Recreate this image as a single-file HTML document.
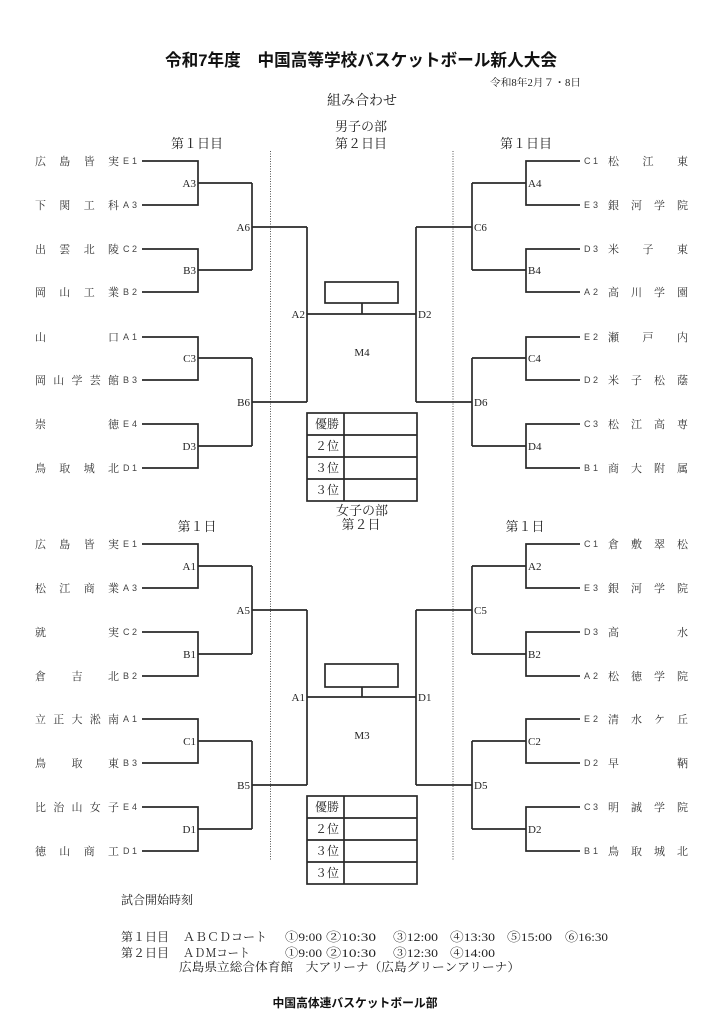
<!DOCTYPE html>
<html><head><meta charset="utf-8"><style>
html,body{margin:0;padding:0;background:#fff;}
svg{display:block;}
.s{font-family:"Liberation Serif","Noto Serif CJK SC",serif;fill:#222;}
.g{font-family:"Liberation Sans","Noto Sans CJK JP",sans-serif;fill:#111;}
.tm{font-family:"Liberation Serif","Noto Serif CJK SC",serif;font-size:11px;fill:#333;}
.cd{font-family:"Liberation Sans",sans-serif;font-size:9px;fill:#444;}
.lb{font-family:"Liberation Serif",serif;font-size:11px;fill:#222;}
.ln{fill:none;stroke:#2a2a2a;stroke-width:1.7;}
.dt{stroke:#555;stroke-width:1;stroke-dasharray:1 1.5;}
</style></head><body>
<svg width="724" height="1024" viewBox="0 0 724 1024" xmlns="http://www.w3.org/2000/svg">
<!-- headers -->
<text class="g" x="361" y="66" font-size="17" font-weight="bold" text-anchor="middle" textLength="392" lengthAdjust="spacingAndGlyphs">令和7年度　中国高等学校バスケットボール新人大会</text>
<text class="s" x="490" y="86" font-size="10" textLength="91" lengthAdjust="spacingAndGlyphs">令和8年2月７・8日</text>
<text class="s" x="362" y="105" font-size="14" text-anchor="middle">組み合わせ</text>
<text class="s" x="361" y="131" font-size="13" text-anchor="middle">男子の部</text>
<text class="s" x="361" y="148" font-size="13" text-anchor="middle">第２日目</text>
<text class="s" x="197" y="148" font-size="13" text-anchor="middle">第１日目</text>
<text class="s" x="526" y="148" font-size="13" text-anchor="middle">第１日目</text>
<text class="s" x="362" y="515" font-size="13" text-anchor="middle">女子の部</text>
<text class="s" x="361" y="529" font-size="13" text-anchor="middle">第２日</text>
<text class="s" x="197" y="531" font-size="13" text-anchor="middle">第１日</text>
<text class="s" x="525" y="531" font-size="13" text-anchor="middle">第１日</text>

<!-- dotted separators -->
<line class="dt" x1="270.5" y1="151" x2="270.5" y2="860"/>
<line class="dt" x1="453" y1="151" x2="453" y2="860"/>

<!-- TOP LEFT teams -->
<text class="tm" x="35 59.3 83.7 108" y="165">広島皆実</text>
<text class="tm" x="35 59.3 83.7 108" y="209">下関工科</text>
<text class="tm" x="35 59.3 83.7 108" y="253">出雲北陵</text>
<text class="tm" x="35 59.3 83.7 108" y="296">岡山工業</text>
<text class="tm" x="35 108" y="341">山口</text>
<text class="tm" x="35 53.25 71.5 89.75 108" y="384">岡山学芸館</text>
<text class="tm" x="35 108" y="428">崇徳</text>
<text class="tm" x="35 59.3 83.7 108" y="472">鳥取城北</text>
<text class="cd" x="123 132" y="164">E1</text>
<text class="cd" x="123 132" y="208">A3</text>
<text class="cd" x="123 132" y="252">C2</text>
<text class="cd" x="123 132" y="295">B2</text>
<text class="cd" x="123 132" y="340">A1</text>
<text class="cd" x="123 132" y="383">B3</text>
<text class="cd" x="123 132" y="427">E4</text>
<text class="cd" x="123 132" y="471">D1</text>

<!-- TOP RIGHT teams -->
<text class="tm" x="608 642.5 677" y="165">松江東</text>
<text class="tm" x="608 631 654 677" y="209">銀河学院</text>
<text class="tm" x="608 642.5 677" y="253">米子東</text>
<text class="tm" x="608 631 654 677" y="296">高川学園</text>
<text class="tm" x="608 642.5 677" y="341">瀬戸内</text>
<text class="tm" x="608 631 654 677" y="384">米子松蔭</text>
<text class="tm" x="608 631 654 677" y="428">松江高専</text>
<text class="tm" x="608 631 654 677" y="472">商大附属</text>
<text class="cd" x="584 593" y="164">C1</text>
<text class="cd" x="584 593" y="208">E3</text>
<text class="cd" x="584 593" y="252">D3</text>
<text class="cd" x="584 593" y="295">A2</text>
<text class="cd" x="584 593" y="340">E2</text>
<text class="cd" x="584 593" y="383">D2</text>
<text class="cd" x="584 593" y="427">C3</text>
<text class="cd" x="584 593" y="471">B1</text>

<!-- BOTTOM LEFT teams -->
<text class="tm" x="35 59.3 83.7 108" y="548">広島皆実</text>
<text class="tm" x="35 59.3 83.7 108" y="592">松江商業</text>
<text class="tm" x="35 108" y="636">就実</text>
<text class="tm" x="35 71.5 108" y="680">倉吉北</text>
<text class="tm" x="35 53.25 71.5 89.75 108" y="723">立正大淞南</text>
<text class="tm" x="35 71.5 108" y="767">鳥取東</text>
<text class="tm" x="35 53.25 71.5 89.75 108" y="811">比治山女子</text>
<text class="tm" x="35 59.3 83.7 108" y="855">徳山商工</text>
<text class="cd" x="123 132" y="547">E1</text>
<text class="cd" x="123 132" y="591">A3</text>
<text class="cd" x="123 132" y="635">C2</text>
<text class="cd" x="123 132" y="679">B2</text>
<text class="cd" x="123 132" y="722">A1</text>
<text class="cd" x="123 132" y="766">B3</text>
<text class="cd" x="123 132" y="810">E4</text>
<text class="cd" x="123 132" y="854">D1</text>

<!-- BOTTOM RIGHT teams -->
<text class="tm" x="608 631 654 677" y="548">倉敷翠松</text>
<text class="tm" x="608 631 654 677" y="592">銀河学院</text>
<text class="tm" x="608 677" y="636">高水</text>
<text class="tm" x="608 631 654 677" y="680">松徳学院</text>
<text class="tm" x="608 631 654 677" y="723">清水ケ丘</text>
<text class="tm" x="608 677" y="767">早鞆</text>
<text class="tm" x="608 631 654 677" y="811">明誠学院</text>
<text class="tm" x="608 631 654 677" y="855">鳥取城北</text>
<text class="cd" x="584 593" y="547">C1</text>
<text class="cd" x="584 593" y="591">E3</text>
<text class="cd" x="584 593" y="635">D3</text>
<text class="cd" x="584 593" y="679">A2</text>
<text class="cd" x="584 593" y="722">E2</text>
<text class="cd" x="584 593" y="766">D2</text>
<text class="cd" x="584 593" y="810">C3</text>
<text class="cd" x="584 593" y="854">B1</text>

<!-- bracket lines -->
<path class="ln" d="
M142 161H198V205H142 M198 183H252
M142 249H198V292H142 M198 270H252
M252 183V270 M252 227H307
M142 337H198V380H142 M198 358H252
M142 424H198V468H142 M198 446H252
M252 358V446 M252 402H307
M307 227V402 M307 314H416
M580 161H526V205H580 M526 183H472
M580 249H526V292H580 M526 270H472
M472 183V270 M472 227H416
M580 337H526V380H580 M526 358H472
M580 424H526V468H580 M526 446H472
M472 358V446 M472 402H416
M416 227V402
M362 303V314
M142 544H198V588H142 M198 566H252
M142 632H198V676H142 M198 654H252
M252 566V654 M252 610H307
M142 719H198V763H142 M198 741H252
M142 807H198V851H142 M198 829H252
M252 741V829 M252 785H307
M307 610V785 M307 697H416
M580 544H526V588H580 M526 566H472
M580 632H526V676H580 M526 654H472
M472 566V654 M472 610H416
M580 719H526V763H580 M526 741H472
M580 807H526V851H580 M526 829H472
M472 741V829 M472 785H416
M416 610V785
M362 687V697
"/>
<rect class="ln" x="325" y="282" width="73" height="21"/>
<rect class="ln" x="325" y="664" width="73" height="23"/>

<!-- bracket labels -->
<g class="lb">
<text x="196" y="187" text-anchor="end">A3</text>
<text x="196" y="274" text-anchor="end">B3</text>
<text x="250" y="231" text-anchor="end">A6</text>
<text x="196" y="362" text-anchor="end">C3</text>
<text x="196" y="450" text-anchor="end">D3</text>
<text x="250" y="406" text-anchor="end">B6</text>
<text x="305" y="318" text-anchor="end">A2</text>
<text x="528" y="187">A4</text>
<text x="528" y="274">B4</text>
<text x="474" y="231">C6</text>
<text x="528" y="362">C4</text>
<text x="528" y="450">D4</text>
<text x="474" y="406">D6</text>
<text x="418" y="318">D2</text>
<text x="362" y="356" text-anchor="middle">M4</text>

<text x="196" y="570" text-anchor="end">A1</text>
<text x="196" y="658" text-anchor="end">B1</text>
<text x="250" y="614" text-anchor="end">A5</text>
<text x="196" y="745" text-anchor="end">C1</text>
<text x="196" y="833" text-anchor="end">D1</text>
<text x="250" y="789" text-anchor="end">B5</text>
<text x="305" y="701" text-anchor="end">A1</text>
<text x="528" y="570">A2</text>
<text x="528" y="658">B2</text>
<text x="474" y="614">C5</text>
<text x="528" y="745">C2</text>
<text x="528" y="833">D2</text>
<text x="474" y="789">D5</text>
<text x="418" y="701">D1</text>
<text x="362" y="739" text-anchor="middle">M3</text>
</g>

<!-- result tables -->
<g class="ln">
<rect x="307" y="413" width="110" height="88"/>
<path d="M307 435H417 M307 457H417 M307 479H417 M344 413V501"/>
<rect x="307" y="796" width="110" height="88"/>
<path d="M307 818H417 M307 840H417 M307 862H417 M344 796V884"/>
</g>
<g class="s" font-size="12" text-anchor="end">
<text x="339" y="428">優勝</text>
<text x="339" y="450">２位</text>
<text x="339" y="472">３位</text>
<text x="339" y="494">３位</text>
<text x="339" y="811">優勝</text>
<text x="339" y="833">２位</text>
<text x="339" y="855">３位</text>
<text x="339" y="877">３位</text>
</g>

<!-- footer -->
<g class="s" font-size="12">
<text x="121" y="904">試合開始時刻</text>
<text x="121" y="941">第１日目</text>
<text x="183" y="941" textLength="84" lengthAdjust="spacingAndGlyphs">ＡＢＣＤコート</text>
<text x="285" y="941" textLength="37" lengthAdjust="spacingAndGlyphs">①9:00</text>
<text x="326" y="941" textLength="50" lengthAdjust="spacingAndGlyphs">②10:30</text>
<text x="393" y="941" textLength="45" lengthAdjust="spacingAndGlyphs">③12:00</text>
<text x="450" y="941" textLength="45" lengthAdjust="spacingAndGlyphs">④13:30</text>
<text x="507" y="941" textLength="45" lengthAdjust="spacingAndGlyphs">⑤15:00</text>
<text x="565" y="941" textLength="43" lengthAdjust="spacingAndGlyphs">⑥16:30</text>
<text x="121" y="957">第２日目</text>
<text x="183" y="957" textLength="67" lengthAdjust="spacingAndGlyphs">ＡＤＭコート</text>
<text x="285" y="957" textLength="37" lengthAdjust="spacingAndGlyphs">①9:00</text>
<text x="326" y="957" textLength="50" lengthAdjust="spacingAndGlyphs">②10:30</text>
<text x="393" y="957" textLength="45" lengthAdjust="spacingAndGlyphs">③12:30</text>
<text x="450" y="957" textLength="45" lengthAdjust="spacingAndGlyphs">④14:00</text>
<text x="179" y="971" textLength="341" lengthAdjust="spacingAndGlyphs">広島県立総合体育館　大アリーナ（広島グリーンアリーナ）</text>
</g>
<text class="g" x="355" y="1007" font-size="12" font-weight="bold" text-anchor="middle" textLength="165" lengthAdjust="spacingAndGlyphs">中国高体連バスケットボール部</text>
</svg>
</body></html>
